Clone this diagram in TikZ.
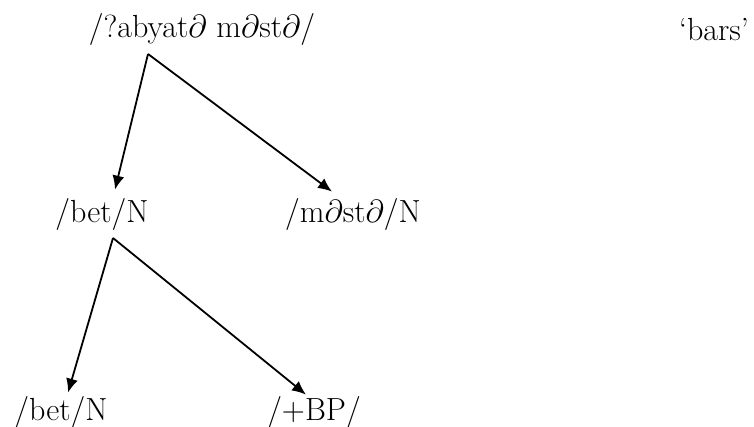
\RequirePackage{fix-cm}
\documentclass[tikz,border=0pt]{standalone}
\usetikzlibrary{arrows.meta}

\begin{document}
\begin{tikzpicture}[x=0.5pt,y=-0.5pt,>={Latex[length=7pt,width=6pt]},
  every node/.style={font=\fontsize{16}{19}\selectfont,inner sep=0pt,anchor=base}]
\useasboundingbox (0,0) rectangle (754,427);
\node (word) at (202,38) {/?abyat$\partial$ m$\partial$st$\partial$/};
\node (gloss) at (714,41) {`bars'};
\node (bet1) at (102,222) {/bet/N};
\node (mast) at (353,222) {/m$\partial$st$\partial$/N};
\node (bet2) at (61,420) {/bet/N};
\node (bp) at (314,420) {/+BP/};
\coordinate (fork1) at (148,54);
\coordinate (fork2) at (113,238);
\draw[->,line width=0.9pt] (fork1) -- ([shift={(13,-8)}]bet1.north);
\draw[->,line width=0.9pt] (fork1) -- ([shift={(-21,-6)}]mast.north);
\draw[->,line width=0.9pt] (fork2) -- ([shift={(7,-3)}]bet2.north);
\draw[->,line width=0.9pt] (fork2) -- ([shift={(-8,-1)}]bp.north);
\end{tikzpicture}
\end{document}
